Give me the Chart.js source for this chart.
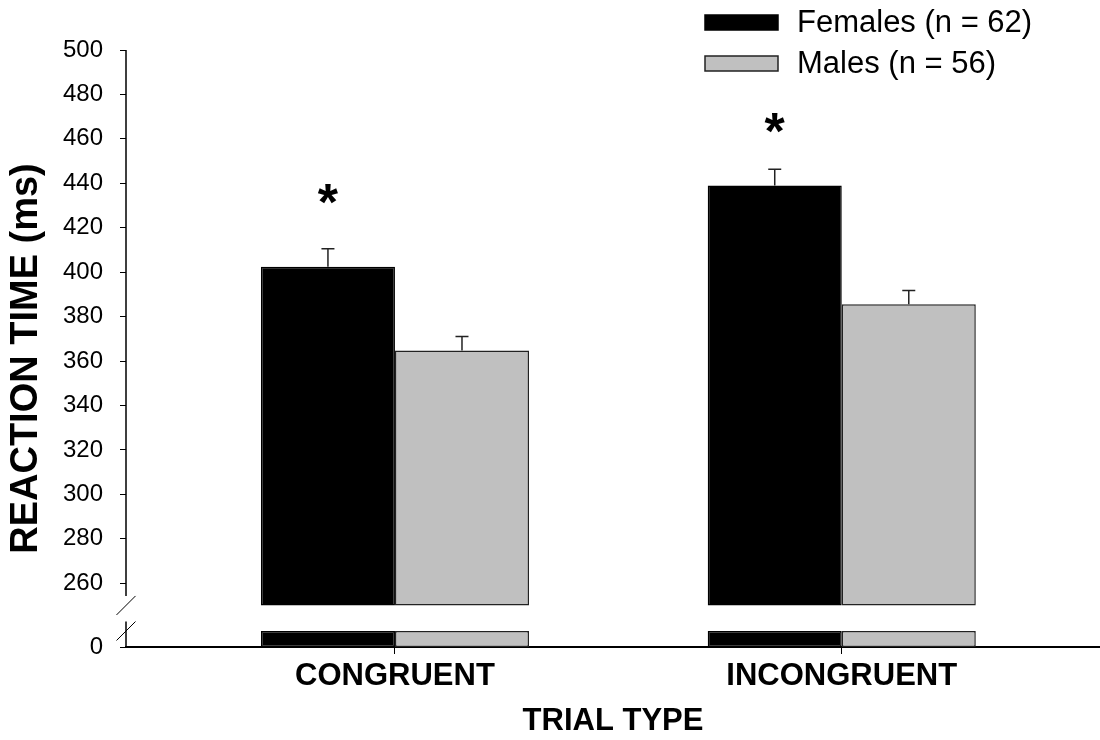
<!DOCTYPE html>
<html><head><meta charset="utf-8">
<script src="https://cdn.jsdelivr.net/npm/chart.js@4.4.1/dist/chart.umd.min.js"></script>
<style>html,body{margin:0;padding:0;background:#fff;} #wrap{width:1100px;height:740px;position:relative;}</style>
</head><body><div id="wrap"><canvas id="c"></canvas></div>
<script>
// ---------------- data ----------------
const categories = ['CONGRUENT', 'INCONGRUENT'];
const seriesNames = ['Females (n = 62)', 'Males (n = 56)'];
const femalesRT = [402.5, 439.0];
const malesRT = [364.8, 385.6];
const femalesSE = [8.0, 7.3];
const malesSE = [6.2, 6.1];
const sigMarkValue = [435, 467];   // level of the '*' marks above the female bars
const yTickValues = [0, 260, 280, 300, 320, 340, 360, 380, 400, 420, 440, 460, 480, 500];
const yTitle = 'REACTION TIME (ms)';
const xTitle = 'TRIAL TYPE';

// ---------------- axis-break layout (display units) ----------------
const AXIS_ZERO = 231.3, STUB_TOP = 238.5, BREAK_BASE = 250, Y_MAX = 500;
const toDisplay = v => (v === 0 ? AXIS_ZERO : v);
const FONT = '"Liberation Sans", Arial, Helvetica, sans-serif';
const BLACK = '#000000', GREY = '#c0c0c0', EDGE = '#222222';

const upper = vals => vals.map((v, i) => ({ x: i + 1, y: [BREAK_BASE, v] }));
const stub = () => categories.map((c, i) => ({ x: i + 1, y: [AXIS_ZERO, STUB_TOP] }));

const barStyle = (fill, edge) => ({
  backgroundColor: fill, borderColor: edge, borderWidth: 1.5, borderSkipped: false,
  categoryPercentage: 0.6, barPercentage: 1.0
});

const datasets = [
  Object.assign({ label: seriesNames[0], data: upper(femalesRT), stack: 'F', se: femalesSE }, barStyle(BLACK, BLACK)),
  Object.assign({ label: '_stubF', data: stub(), stack: 'F' }, barStyle(BLACK, BLACK)),
  Object.assign({ label: seriesNames[1], data: upper(malesRT), stack: 'M', se: malesSE }, barStyle(GREY, EDGE)),
  Object.assign({ label: '_stubM', data: stub(), stack: 'M' }, barStyle(GREY, EDGE))
];

// ---------------- plugins ----------------
const errorBars = {
  id: 'errorBars',
  afterDatasetsDraw(chart) {
    const ctx = chart.ctx, y = chart.scales.y;
    ctx.save();
    ctx.strokeStyle = '#222'; ctx.lineWidth = 1.5;
    chart.data.datasets.forEach((ds, di) => {
      if (!ds.se) return;
      chart.getDatasetMeta(di).data.forEach((el, i) => {
        const top = y.getPixelForValue(ds.data[i].y[1] + ds.se[i]);
        ctx.beginPath();
        ctx.moveTo(el.x, el.y); ctx.lineTo(el.x, top);
        ctx.moveTo(el.x - 6.5, top); ctx.lineTo(el.x + 6.5, top);
        ctx.stroke();
      });
    });
    ctx.restore();
  }
};

const sigMarks = {
  id: 'sigMarks',
  afterDatasetsDraw(chart) {
    const ctx = chart.ctx, y = chart.scales.y, meta = chart.getDatasetMeta(0);
    ctx.save();
    ctx.font = 'bold 52px ' + FONT; ctx.fillStyle = '#000';
    ctx.textAlign = 'center'; ctx.textBaseline = 'alphabetic';
    const m = ctx.measureText('*');
    const off = (m.actualBoundingBoxAscent - m.actualBoundingBoxDescent) / 2;
    sigMarkValue.forEach((v, i) => {
      if (v == null) return;
      ctx.fillText('*', meta.data[i].x, y.getPixelForValue(v) + off);
    });
    ctx.restore();
  }
};

const brokenAxis = {
  id: 'brokenAxis',
  afterDraw(chart) {
    const ctx = chart.ctx, y = chart.scales.y, x0 = chart.chartArea.left;
    const b1 = y.getPixelForValue(BREAK_BASE), b2 = y.getPixelForValue(STUB_TOP);
    const d = 9.5;
    ctx.save();
    ctx.strokeStyle = '#000'; ctx.lineWidth = 1.5;
    ctx.beginPath();
    ctx.moveTo(x0, y.getPixelForValue(Y_MAX)); ctx.lineTo(x0, b1 - d);
    ctx.moveTo(x0, b2 - d); ctx.lineTo(x0, chart.chartArea.bottom);
    ctx.stroke();
    ctx.lineWidth = 1;
    ctx.beginPath();
    ctx.moveTo(x0 - d, b1 + d); ctx.lineTo(x0 + d, b1 - d);
    ctx.moveTo(x0 - d, b2 + d); ctx.lineTo(x0 + d, b2 - d);
    ctx.stroke();
    // rotated y-axis title, centred slightly below the plot middle as in the original
    const ca = chart.chartArea;
    ctx.translate(26.5, (ca.top + ca.bottom) / 2 + 10);
    ctx.rotate(-Math.PI / 2);
    ctx.font = 'bold 38px ' + FONT; ctx.fillStyle = '#000';
    ctx.textAlign = 'center'; ctx.textBaseline = 'middle';
    ctx.fillText(yTitle, 0, 0);
    ctx.restore();
  }
};

const boxLegend = {
  id: 'boxLegend',
  afterDraw(chart) {
    const ctx = chart.ctx;
    const L = { x: 705, y: 15, w: 73, h: 15, gap: 41, textX: 797 };
    ctx.save();
    ctx.font = '31px ' + FONT; ctx.textBaseline = 'middle'; ctx.textAlign = 'left';
    [0, 2].forEach((di, row) => {
      const ds = chart.data.datasets[di];
      const top = L.y + row * L.gap;
      ctx.fillStyle = ds.backgroundColor;
      ctx.fillRect(L.x, top, L.w, L.h);
      ctx.strokeStyle = ds.borderColor; ctx.lineWidth = 1.5;
      ctx.strokeRect(L.x, top, L.w, L.h);
      ctx.fillStyle = '#000';
      ctx.fillText(ds.label, L.textX, top + L.h / 2 + 1);
    });
    ctx.restore();
  }
};

// ---------------- chart ----------------
new Chart(document.getElementById('c'), {
  type: 'bar',
  data: { datasets },
  plugins: [errorBars, sigMarks, brokenAxis, boxLegend],
  options: {
    responsive: true, maintainAspectRatio: false, animation: false,
    layout: { padding: { top: 50, right: 0, bottom: 0, left: 0 } },
    plugins: { legend: { display: false }, tooltip: { enabled: false } },
    scales: {
      x: {
        type: 'linear', min: 0.398, max: 2.578, stacked: true, offset: false,
        afterBuildTicks: s => { s.ticks = categories.map((c, i) => ({ value: i + 1 })); },
        afterFit: s => { s.height = 93; },
        grid: { offset: false, drawOnChartArea: false, drawTicks: true, tickLength: 7, color: '#000', lineWidth: 1 },
        border: { display: true, color: '#000', width: 2 },
        ticks: {
          autoSkip: false, maxRotation: 0, padding: 4, color: '#000',
          font: { family: FONT, size: 31, weight: 'bold' },
          callback: v => categories[Math.round(v) - 1] ?? ''
        },
        title: { display: true, text: xTitle, color: '#000',
          font: { family: FONT, size: 31, weight: 'bold' }, padding: { top: 0, bottom: 0 } }
      },
      y: {
        type: 'linear', min: AXIS_ZERO, max: Y_MAX, stacked: false,
        afterBuildTicks: s => { s.ticks = yTickValues.map(v => ({ value: toDisplay(v) })); },
        afterFit: s => { s.width = 126; },
        grid: { drawOnChartArea: false, drawTicks: true, tickLength: 6, color: '#000', lineWidth: 1 },
        border: { display: false },
        ticks: {
          autoSkip: false, padding: 17, color: '#000',
          font: { family: FONT, size: 24 },
          callback: (v, i) => String(yTickValues[i])
        },
        title: { display: false }
      }
    }
  }
});
</script>
</body></html>
